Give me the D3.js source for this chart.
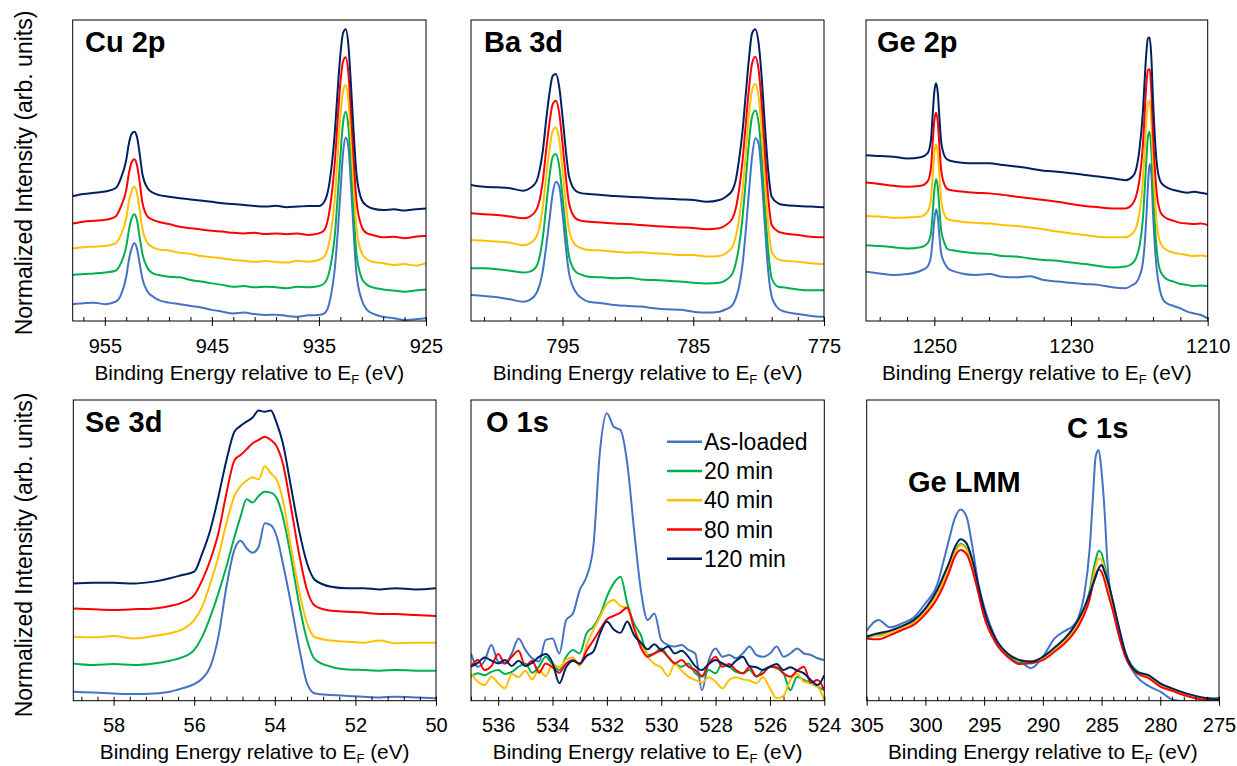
<!DOCTYPE html>
<html>
<head>
<meta charset="utf-8">
<script src="https://cdn.jsdelivr.net/npm/d3@7"></script>
<style>
  body { margin: 0; background: #fff; }
  text { font-family: "Liberation Sans", Arial, sans-serif; fill: #000; }
</style>
</head>
<body>
<div id="chart"></div>
<script>
// series legend
let seriesNames = ['As-loaded', '20 min', '40 min', '80 min', '120 min']
let seriesColors = ['#4472C4', '#00B050', '#FFC000', '#FF0000', '#002060']

// Cu 2p (binding energy, eV) / normalized intensity, 0..100 of the panel height
let cuEnergy = [958,957,956,955,954,953.5,953,952.75,952.5,952.25,952,951.75,951.5,951,950.5,950,949,948,947,946,945,944,943,942,941,940,939,938,937,936,935,934.5,934,933.5,933.25,933,932.75,932.5,932.25,932,931.75,931.5,931,930.5,930,929,928,927,926,925]
let cuAsLoaded = [5.6,5.9,6.1,5.6,6.4,8.6,14.7,20.3,24.1,25.8,24.1,19.2,14.2,9.7,8.1,7.0,6.1,5.6,5.0,4.5,3.7,3.1,2.5,2.8,2.3,2.0,2.1,1.7,1.4,1.9,2.0,2.5,6.4,18.1,29.1,42.4,55.7,61.0,57.9,44.6,29.1,15.8,7.0,3.7,2.5,1.4,0.9,0.3,0.6,0.9]
let cu20 = [15.3,15.6,15.8,16.1,16.7,19.2,24.7,30.2,34.1,35.5,33.6,28.0,22.5,17.5,15.8,15.3,14.7,14.5,13.6,13.1,12.5,12.0,11.4,11.6,11.2,11.4,11.2,10.9,11.4,11.2,11.6,12.5,16.9,29.1,41.3,54.6,65.7,69.5,64.6,51.3,35.8,22.5,14.2,12.0,11.2,10.5,10.1,9.7,10.1,10.5]
let cu40 = [24.1,24.5,24.7,24.9,25.8,28.6,34.1,39.6,43.3,44.6,42.6,36.9,30.8,25.8,24.5,23.8,23.4,22.7,22.3,21.6,21.2,20.8,20.3,20.0,19.7,19.9,19.6,19.4,20.0,19.7,20.3,21.4,26.9,41.3,54.6,67.9,76.2,78.4,73.4,60.1,44.6,31.3,22.5,20.5,19.7,19.2,18.6,18.9,18.4,19.2]
let cu80 = [32.4,33.0,33.3,33.6,34.7,38.0,43.5,49.1,52.6,53.7,51.8,46.3,39.6,34.7,33.6,33.0,32.2,31.3,30.8,30.4,30.0,29.7,29.3,29.1,29.3,28.9,29.1,28.8,29.1,28.6,29.1,30.2,36.9,53.5,66.8,79.0,86.2,87.6,82.3,69.0,53.5,40.2,31.3,29.1,28.6,27.8,28.0,27.5,28.0,28.2]
let cu120 = [41.5,42.2,42.6,43.0,44.1,47.4,53.5,59.0,62.1,62.9,61.2,55.7,49.1,44.1,42.6,41.9,41.3,40.8,40.4,40.0,39.6,39.1,38.9,38.5,38.2,38.0,38.3,37.8,38.0,38.2,38.2,39.6,46.3,63.5,76.7,88.4,95.6,96.9,91.7,77.9,62.3,49.1,40.2,38.2,37.4,36.9,37.1,36.7,37.1,37.4]

// Ba 3d
let baEnergy = [802,801,800,799,798,797.5,797,796.75,796.5,796.25,796,795.75,795.5,795.25,795,794.75,794.5,794,793.5,793,792,791,790,789,788,787,786,785,784,783,782.5,782,781.75,781.5,781.25,781,780.75,780.5,780.25,780,779.75,779.5,779.25,779,778.5,778,777,776,775]
let baAsLoaded = [8.6,8.3,7.9,7.2,6.4,7.0,9.2,12.0,16.9,24.7,33.6,42.4,46.3,44.6,35.8,24.7,15.8,9.7,7.5,6.4,5.9,5.3,5.0,4.8,4.2,3.9,3.7,3.1,2.8,3.1,3.9,5.3,7.5,11.4,18.1,29.1,42.4,54.6,60.7,59.0,46.8,30.2,15.8,8.1,4.2,3.1,2.3,1.7,1.4]
let ba20 = [17.5,17.5,17.2,16.7,16.1,16.4,18.1,21.4,28.0,38.0,48.0,54.6,55.5,51.3,41.3,30.2,21.4,16.4,15.3,14.7,14.5,14.2,14.4,13.8,13.6,13.4,13.1,12.7,12.5,12.7,13.6,15.8,19.2,24.7,33.6,45.7,59.0,67.9,69.9,65.7,53.5,36.9,22.5,14.2,11.4,11.1,10.5,10.2,10.2]
let ba40 = [26.9,26.7,26.4,26.0,25.2,25.8,28.0,31.3,38.0,48.0,56.8,63.2,64.3,60.1,50.2,39.1,30.2,25.2,24.1,23.6,23.4,23.0,22.7,22.8,22.5,22.3,21.9,21.9,21.4,21.6,22.5,24.7,28.0,33.6,42.4,54.6,67.9,76.7,78.7,74.5,62.3,45.7,31.3,23.0,20.5,20.0,19.7,19.2,18.9]
let ba80 = [35.8,35.5,35.2,34.7,34.1,34.7,36.9,40.2,46.8,56.8,65.7,72.1,73.2,69.0,59.0,48.0,39.1,34.1,33.2,33.0,32.7,32.4,32.2,31.9,31.6,31.3,31.1,30.9,30.5,30.8,31.9,34.1,37.4,43.5,52.4,64.6,76.7,85.6,87.8,83.4,71.2,54.6,40.2,31.9,29.7,29.1,28.6,28.0,27.8]
let ba120 = [45.2,44.6,44.4,44.1,43.3,44.1,46.3,50.2,56.8,66.8,75.6,81.4,82.1,77.7,67.9,56.8,48.0,43.3,42.4,42.2,41.9,41.5,41.3,41.1,40.8,40.6,40.4,40.2,39.6,40.2,41.3,43.5,46.8,53.5,62.3,74.5,86.7,95.6,96.9,92.2,80.1,63.5,49.1,41.3,39.1,38.5,38.2,38.0,37.8]

// Ge 2p
let geEnergy = [1260,1258,1256,1254,1252,1251,1250.5,1250.25,1250,1249.75,1249.5,1249.25,1249,1248.5,1248,1247,1246,1244,1242,1240,1238,1236,1234,1232,1230,1228,1226,1224,1222,1221,1220.5,1220,1219.5,1219.25,1219,1218.75,1218.5,1218.25,1218,1217.5,1217,1216.5,1216,1215,1214,1213,1212,1211,1210]
let geAsLoaded = [16.4,15.8,15.3,15.6,16.7,18.1,21.4,26.9,33.6,37.1,34.7,28.0,22.5,19.2,17.5,16.4,15.8,15.3,15.6,14.7,14.5,14.9,13.6,13.1,12.7,12.3,12.0,11.2,10.9,12.0,12.7,14.7,19.2,24.7,33.6,44.6,52.2,49.1,35.8,18.1,10.3,7.0,5.9,5.0,4.2,3.1,2.5,2.0,0.9]
let ge20 = [25.2,24.9,24.5,24.1,24.5,25.8,29.1,35.8,43.5,47.1,44.6,36.9,30.2,25.8,23.8,23.4,23.0,22.5,22.3,21.6,21.4,20.8,20.3,20.0,19.4,18.9,18.3,17.8,18.1,19.2,20.8,24.7,33.6,42.4,52.4,61.2,62.9,56.8,43.5,24.7,17.0,15.0,13.9,13.1,12.3,12.0,11.6,11.8,11.6]
let ge40 = [34.9,34.7,34.3,34.4,34.7,36.3,40.2,48.0,55.5,58.8,55.7,48.0,40.2,35.2,33.8,33.3,33.0,32.6,32.4,31.9,31.6,31.1,30.5,29.7,29.1,28.6,28.0,27.8,27.8,29.1,30.8,35.8,45.7,55.7,65.7,72.3,73.2,66.8,53.5,33.6,26.4,24.5,23.6,22.7,22.3,21.9,21.6,21.8,21.4]
let ge80 = [46.0,45.5,44.9,44.6,44.9,46.3,50.7,59.0,66.6,69.2,66.2,57.9,50.2,45.2,43.7,43.3,43.0,42.6,42.4,41.9,41.3,40.8,40.2,39.6,38.9,38.2,37.8,37.4,37.4,38.9,41.3,46.8,57.9,67.9,77.9,83.4,83.6,76.7,62.3,43.5,36.7,34.9,34.1,33.3,32.6,32.4,32.2,32.4,31.9]
let ge120 = [55.1,54.8,54.6,54.0,54.4,55.7,60.1,68.4,76.2,79.0,75.9,67.3,59.6,54.8,53.5,52.9,52.6,52.4,52.4,51.8,51.3,50.7,49.9,49.6,49.1,48.5,48.0,47.4,46.8,48.0,50.2,56.8,69.0,79.0,88.4,93.9,94.2,87.8,73.4,53.5,46.8,45.2,44.4,43.5,43.0,42.6,42.9,42.6,42.2]

// Se 3d
let seEnergy = [59,58.5,58,57.5,57,56.6,56.3,56,55.8,55.6,55.4,55.2,55,54.85,54.7,54.55,54.4,54.25,54.1,53.95,53.8,53.6,53.4,53.2,53,52.6,52.2,51.8,51.4,51,50.5,50]
let seAsLoaded = [3.0,2.7,2.4,2.2,2.4,3.0,4.1,5.5,7.4,11.3,21.3,37.9,50.3,53.2,50.7,49.2,51.2,59.0,58.4,54.5,45.7,32.4,18.0,5.8,2.4,1.9,1.6,1.3,1.1,1.3,1.1,0.8]
let se20 = [12.4,11.9,12.2,11.9,12.4,13.3,14.4,16.9,21.3,27.9,35.7,44.6,54.5,61.2,67.0,65.9,68.1,69.5,69.2,67.3,61.2,47.9,32.4,20.2,13.7,11.3,10.4,10.2,10.0,10.2,10.0,10.0]
let se40 = [21.3,21.1,21.5,20.7,21.5,22.4,23.7,26.8,31.3,39.0,47.9,59.0,68.1,71.4,73.2,74.3,73.6,78.0,75.6,73.4,66.7,51.2,36.8,25.7,21.1,20.0,19.6,19.3,20.0,19.1,19.3,19.3]
let se80 = [30.7,30.4,30.2,30.4,30.7,31.5,32.6,35.1,40.1,46.8,55.7,69.0,80.0,81.7,83.6,85.6,86.7,87.8,86.7,84.5,78.9,64.5,49.0,36.8,31.5,29.9,29.6,29.3,28.8,28.8,28.5,28.2]
let se120 = [39.0,39.2,39.2,39.0,39.6,40.7,41.8,42.9,49.0,56.8,67.8,80.0,89.5,91.4,92.8,94.2,96.5,96.1,96.5,92.2,85.6,71.2,56.8,45.7,40.1,37.9,37.4,37.4,37.0,37.4,37.0,37.4]

// O 1s
let oEnergy = [537,536.75,536.5,536.25,536,535.75,535.5,535.25,535,534.75,534.5,534.25,534,533.75,533.5,533.25,533,532.75,532.5,532.25,532,531.75,531.5,531.25,531,530.75,530.5,530.25,530,529.75,529.5,529.25,529,528.75,528.5,528.25,528,527.75,527.5,527.25,527,526.75,526.5,526.25,526,525.75,525.5,525.25,525,524.75,524.5,524.25,524]
let oAsLoaded = [15.7,11.3,13.3,18.5,13.0,12.4,15.7,20.7,16.9,14.1,13.0,20.2,20.7,15.7,26.8,29.0,36.8,41.2,51.2,83.4,95.6,91.1,90.0,78.9,56.8,36.8,26.8,29.0,20.2,18.5,18.0,18.5,16.9,15.7,3.5,13.5,17.4,14.6,15.2,14.1,15.7,18.0,15.2,14.6,15.7,18.0,14.6,15.7,17.4,15.7,15.2,14.1,13.5]
let o20 = [8.0,9.1,8.5,9.6,10.2,8.9,9.6,11.3,12.4,9.3,11.3,14.6,11.9,10.2,14.6,16.9,15.7,22.4,24.6,28.5,34.6,39.0,41.2,32.4,25.7,21.8,15.2,15.7,17.4,14.6,12.4,11.3,12.4,9.1,8.0,10.2,9.1,12.4,11.3,9.6,9.1,10.2,8.0,10.2,11.3,10.8,9.1,3.5,8.0,6.9,5.8,4.7,3.5]
let o40 = [9.1,6.3,5.2,8.0,5.8,4.1,8.9,7.8,10.0,7.1,10.2,8.2,12.2,11.1,13.7,14.4,11.5,18.5,23.5,27.9,32.2,33.5,31.5,30.7,24.1,19.3,14.6,12.2,11.1,8.2,12.2,10.0,8.0,6.9,6.0,7.8,6.3,4.1,6.9,7.8,7.1,6.7,5.8,7.8,4.1,0.8,1.6,6.9,8.9,6.3,5.8,4.7,0.2]
let o80 = [11.3,13.5,10.2,11.5,15.5,12.4,14.6,16.6,11.5,13.3,9.3,12.4,11.1,9.3,12.4,13.5,12.2,16.6,20.0,23.7,27.1,28.2,29.3,31.0,24.1,17.7,14.6,15.7,16.6,14.6,12.4,13.5,11.3,10.2,8.2,12.4,14.6,11.3,12.2,10.2,9.1,11.1,8.2,9.1,11.3,11.1,9.1,8.0,10.0,11.3,6.0,6.9,3.5]
let o120 = [11.3,12.6,14.4,13.3,12.4,13.5,11.5,13.3,11.5,12.6,14.6,15.5,12.6,5.8,11.1,13.3,12.4,14.9,16.3,22.4,26.3,23.7,22.6,26.3,21.8,19.3,17.1,18.8,16.9,18.0,15.7,16.6,14.6,11.5,10.2,12.2,13.5,12.4,11.3,13.3,14.6,11.5,11.1,10.2,11.3,12.2,10.2,11.1,10.0,9.1,6.9,5.2,8.5]

// C 1s + Ge LMM
let cEnergy = [305,304,303,302,301,300,299,298.5,298,297.5,297,296.5,296,295.5,295,294,293,292,291,290,289,288,287.5,287,286.5,286,285.75,285.5,285.25,285,284.75,284.5,284,283.5,283,282,281,280,279,278,277,276,275]
let cAsLoaded = [23.3,26.8,24.4,25.7,27.7,32.4,38.6,45.7,53.4,60.6,63.6,61.2,51.2,39.0,31.3,20.7,15.5,13.5,10.8,14.6,20.7,23.5,24.6,27.4,34.6,51.2,66.7,81.2,83.4,76.2,63.4,45.7,30.2,21.3,15.2,8.0,4.9,3.0,0.4,-0.3,-0.9,-1.1,-1.4]
let c20 = [21.1,21.8,22.9,24.4,26.3,29.9,35.7,39.9,44.6,49.6,52.1,50.7,45.1,37.3,29.3,19.9,15.2,12.6,12.4,14.1,17.1,20.8,22.9,25.9,30.2,36.8,42.4,46.8,49.9,49.0,45.1,40.7,32.4,23.5,16.3,10.0,8.2,5.2,3.8,2.4,1.1,0.8,0.8]
let c40 = [21.8,21.5,22.6,24.4,25.9,29.6,35.5,39.6,44.3,49.2,51.8,50.3,44.8,37.0,29.0,20.2,15.7,13.7,13.0,14.1,16.9,20.4,22.6,25.7,29.6,35.7,40.1,44.6,47.3,46.8,43.5,39.0,31.3,22.9,15.7,9.3,7.8,4.9,3.5,2.2,1.3,0.7,0.4]
let c80 = [20.7,20.4,21.8,23.5,25.2,28.8,34.0,37.9,42.6,47.9,50.1,48.8,43.5,35.9,27.9,19.1,14.6,12.2,12.6,13.5,16.3,19.6,21.8,24.6,28.5,34.0,38.5,41.8,43.7,42.9,40.1,36.3,29.3,21.5,14.9,9.1,7.5,4.7,3.3,1.9,0.8,0.2,0.8]
let c120 = [21.3,22.4,23.3,24.8,26.8,30.7,36.8,41.2,45.7,51.0,53.7,52.3,46.8,38.5,30.2,20.4,15.7,13.5,13.0,14.6,17.7,21.3,23.7,26.8,30.7,35.7,38.5,41.2,44.0,45.1,42.9,40.1,32.4,24.1,16.3,9.6,8.5,5.8,4.1,2.7,1.6,0.8,0.2]

// axis ticks
let cuTicks = [955, 945, 935, 925]
let baTicks = [795, 785, 775]
let geTicks = [1250, 1230, 1210]
let seTicks = [58, 56, 54, 52, 50]
let oTicks = [536, 534, 532, 530, 528, 526, 524]
let cTicks = [305, 300, 295, 290, 285, 280, 275]

let width = 1237, height = 766
let svg = d3.select('#chart')
  .append('svg')
  .attr('width', width)
  .attr('height', height)

let panels = [
  { id: 'cu', left: 72.7, right: 426, top: 20, bottom: 321, domain: [958, 925], ticks: cuTicks, minor: 2,
    energy: cuEnergy, series: [cuAsLoaded, cu20, cu40, cu80, cu120],
    labels: [{ text: 'Cu 2p', x: 85, y: 52 }] },
  { id: 'ba', left: 471, right: 824, top: 20, bottom: 321, domain: [802, 775], ticks: baTicks, minor: 2,
    energy: baEnergy, series: [baAsLoaded, ba20, ba40, ba80, ba120],
    labels: [{ text: 'Ba 3d', x: 484, y: 52 }] },
  { id: 'ge', left: 866, right: 1207.7, top: 20, bottom: 321, domain: [1260, 1210], ticks: geTicks, minor: 4,
    energy: geEnergy, series: [geAsLoaded, ge20, ge40, ge80, ge120],
    labels: [{ text: 'Ge 2p', x: 877, y: 52 }] },
  { id: 'se', left: 73.3, right: 436, top: 400, bottom: 700.7, domain: [59, 50], ticks: seTicks, minor: 0.4,
    energy: seEnergy, series: [seAsLoaded, se20, se40, se80, se120],
    labels: [{ text: 'Se 3d', x: 85, y: 432 }] },
  { id: 'o', left: 471, right: 824.3, top: 400, bottom: 700.7, domain: [537, 524], ticks: oTicks, minor: 0.5,
    energy: oEnergy, series: [oAsLoaded, o20, o40, o80, o120],
    labels: [{ text: 'O 1s', x: 486, y: 432 }], legend: true },
  { id: 'c', left: 866.7, right: 1219, top: 400, bottom: 700.7, domain: [305, 275], ticks: cTicks, minor: 1,
    energy: cEnergy, series: [cAsLoaded, c20, c40, c80, c120],
    labels: [{ text: 'C 1s', x: 1067, y: 438 }, { text: 'Ge LMM', x: 908, y: 492 }] }
]

let drawPanel = (p) => {
  let x = d3.scaleLinear().domain(p.domain).range([p.left, p.right])
  let y = d3.scaleLinear().domain([0, 100]).range([p.bottom, p.top])
  let g = svg.append('g').attr('class', 'panel-' + p.id)

  g.append('clipPath')
    .attr('id', 'clip-' + p.id)
    .append('rect')
    .attr('x', p.left)
    .attr('y', p.top)
    .attr('width', p.right - p.left)
    .attr('height', p.bottom - p.top)

  let line = d3.line()
    .x(d => x(d[0]))
    .y(d => y(d[1]))
    .curve(d3.curveMonotoneX)

  g.append('g')
    .attr('clip-path', `url(#clip-${p.id})`)
    .selectAll('path')
    .data(p.series)
    .enter()
    .append('path')
    .attr('d', s => line(s.map((v, i) => [p.energy[i], v])))
    .attr('fill', 'none')
    .attr('stroke', (s, i) => seriesColors[i])
    .attr('stroke-width', 2)
    .attr('stroke-linejoin', 'round')

  g.append('rect')
    .attr('x', p.left)
    .attr('y', p.top)
    .attr('width', p.right - p.left)
    .attr('height', p.bottom - p.top)
    .attr('fill', 'none')
    .attr('stroke', '#000')
    .attr('stroke-width', 1)

  // minor ticks point inward
  let lo = Math.min(p.domain[0], p.domain[1]), hi = Math.max(p.domain[0], p.domain[1])
  let minors = d3.range(Math.min(...p.ticks), hi + 1e-6, p.minor)
    .concat(d3.range(Math.min(...p.ticks), lo - 1e-6, -p.minor))
    .filter(v => v >= lo - 1e-6 && v <= hi + 1e-6)
    .filter(v => !p.ticks.some(t => Math.abs(t - v) < 1e-6))
  g.append('g')
    .attr('transform', `translate(0,${p.bottom})`)
    .call(d3.axisBottom(x).tickValues(minors).tickSize(-4).tickFormat(''))
    .call(a => a.select('.domain').remove())
    .selectAll('line').attr('stroke', '#000')

  let axis = g.append('g')
    .attr('transform', `translate(0,${p.bottom})`)
    .call(d3.axisBottom(x).tickValues(p.ticks).tickSizeOuter(0).tickFormat(d3.format('d')))
  axis.select('.domain').remove()
  axis.selectAll('.tick line').attr('y1', -4).attr('y2', 5).attr('stroke', '#000')
  axis.selectAll('.tick text')
    .attr('y', 31.5)
    .attr('dy', null)
    .attr('fill', '#000')
    .style('font-size', '20px')
    .style('font-family', '"Liberation Sans", Arial, sans-serif')

  let title = g.append('text')
    .attr('x', (p.left + p.right) / 2)
    .attr('y', p.bottom + 58.5)
    .attr('text-anchor', 'middle')
    .style('font-size', '20.8px')
  title.append('tspan').text('Binding Energy relative to E')
  title.append('tspan').text('F').attr('dy', 4).style('font-size', '13px')
  title.append('tspan').text(' (eV)').attr('dy', -4)

  g.selectAll('.plabel')
    .data(p.labels)
    .enter()
    .append('text')
    .attr('class', 'plabel')
    .attr('x', d => d.x)
    .attr('y', d => d.y)
    .style('font-size', '29px')
    .style('font-weight', 'bold')
    .text(d => d.text)

  if (p.legend) {
    let lg = g.append('g')
    let rows = lg.selectAll('g')
      .data(seriesNames)
      .enter()
      .append('g')
      .attr('transform', (d, i) => `translate(667,${441.7 + i * 29.25})`)
    rows.append('line')
      .attr('x1', 0).attr('x2', 35)
      .attr('stroke', (d, i) => seriesColors[i])
      .attr('stroke-width', 2.5)
    rows.append('text')
      .attr('x', 37)
      .attr('dy', '0.36em')
      .style('font-size', '23px')
      .text(d => d)
  }
}

panels.forEach(drawPanel)

// shared y-axis titles
;[173, 555].forEach(cy => {
  svg.append('text')
    .attr('transform', `translate(32,${cy}) rotate(-90)`)
    .attr('text-anchor', 'middle')
    .style('font-size', '23px')
    .text('Normalized Intensity (arb. units)')
})
</script>
</body>
</html>
